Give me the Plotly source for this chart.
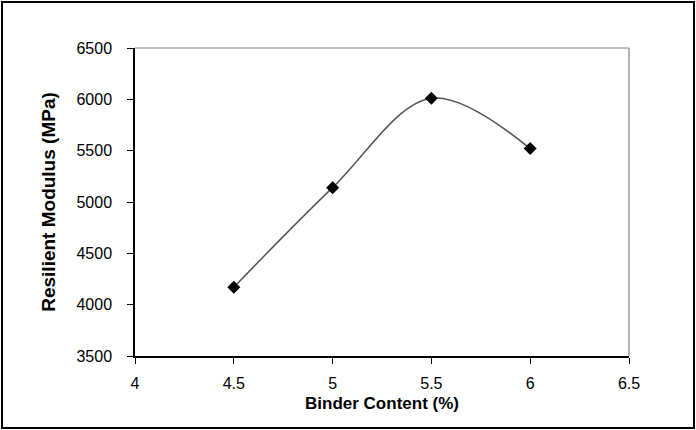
import plotly.graph_objects as go

binder_content = [4.5, 5.0, 5.5, 6.0]
resilient_modulus = [4170, 5140, 6010, 5520]
x_ticks = [4, 4.5, 5, 5.5, 6, 6.5]
y_ticks = [3500, 4000, 4500, 5000, 5500, 6000, 6500]

W, H = 696, 430
ml, mr, mt, mb = 135, 67, 48, 74
pw, ph = W - ml - mr, H - mt - mb

fig = go.Figure()
fig.add_trace(go.Scatter(
    x=binder_content, y=resilient_modulus,
    mode="lines+markers",
    line=dict(color="#555555", width=1.5, shape="spline", smoothing=1.0),
    marker=dict(symbol="diamond", size=10, color="black"),
    showlegend=False,
))

font_family = "Liberation Sans, Arial, sans-serif"
fig.update_layout(
    width=W, height=H,
    margin=dict(l=ml, r=mr, t=mt, b=mb),
    paper_bgcolor="white", plot_bgcolor="white",
    font=dict(family=font_family, color="black", size=16),
    xaxis=dict(
        range=[4, 6.5], tickvals=x_ticks, ticktext=[f"{v:g}" for v in x_ticks],
        showgrid=False, zeroline=False, showline=True, linecolor="black", linewidth=1.5,
        ticks="outside", ticklen=6, tickcolor="black", ticklabelstandoff=6,
        tickfont=dict(size=16),
        title=dict(text="<b>Binder Content (%)</b>", font=dict(size=17), standoff=6),
    ),
    yaxis=dict(
        range=[3500, 6500], tickvals=y_ticks,
        showgrid=False, zeroline=False, showline=True, linecolor="black", linewidth=1.5,
        ticks="outside", ticklen=6, tickcolor="black", ticklabelstandoff=12,
        tickfont=dict(size=16),
        title=dict(text="<b>Resilient Modulus (MPa)</b>", font=dict(size=19), standoff=16),
    ),
    shapes=[
        dict(type="line", xref="paper", yref="paper", x0=0, x1=1, y0=1, y1=1,
             line=dict(color="#808080", width=1.2)),
        dict(type="line", xref="paper", yref="paper", x0=1, x1=1, y0=0, y1=1,
             line=dict(color="#808080", width=1.2)),
        dict(type="rect", xref="paper", yref="paper",
             x0=(2 - ml) / pw, x1=(W - 2 - ml) / pw,
             y0=-(mb - 2) / ph, y1=1 + (mt - 2) / ph,
             line=dict(color="black", width=2)),
    ],
)

fig.write_html("out.html", config={"displayModeBar": False},
               post_script="document.body.style.margin='0';document.body.style.padding='0';")
